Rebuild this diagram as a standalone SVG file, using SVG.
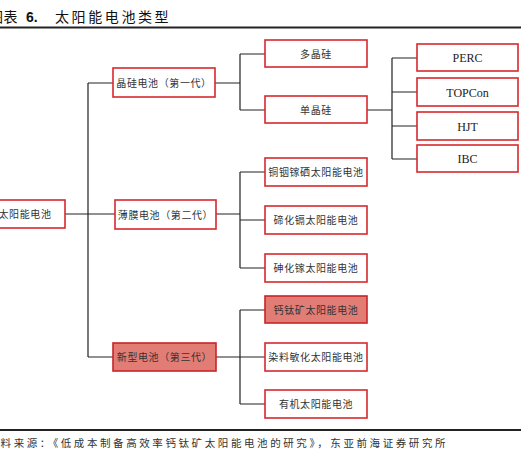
<svg xmlns="http://www.w3.org/2000/svg" width="521" height="455" viewBox="0 0 521 455">
<style>
.box{fill:#fff;stroke:#d7282e;stroke-width:1.6}
.hl{fill:#e27d76;stroke:#c8242a;stroke-width:1.6}
.cn{font-family:"Noto Sans CJK SC","Noto Sans",sans-serif;font-size:10px;fill:#333;text-anchor:middle;letter-spacing:0.6px}
.en{font-family:"Liberation Serif","Times New Roman",serif;font-size:12px;fill:#222;text-anchor:middle}
.ln{fill:none;stroke:#222;stroke-width:1.2}
</style>
<rect width="521" height="455" fill="#fff"/>
<g id="title">
<text x="-11" y="22" font-family="'Noto Sans CJK SC',sans-serif" font-size="14" fill="#111" letter-spacing="0.5">图表</text>
<text x="26" y="22" font-family="'Liberation Sans',Arial,sans-serif" font-size="14" font-weight="bold" fill="#111">6.</text>
<text x="55" y="22" font-family="'Noto Sans CJK SC',sans-serif" font-size="14" fill="#111" letter-spacing="2.6">太阳能电池类型</text>
<line x1="0" y1="27.5" x2="521" y2="27.5" stroke="#222" stroke-width="2"/>
</g>
<g id="connectors">
<path class="ln" d="M65 214H88M88 83V357M88 83H113M88 214H115M88 357H113"/>
<path class="ln" d="M215 83H240M240 54V110M240 54H265M240 110H265"/>
<path class="ln" d="M367 110H392M392 58V159M392 58H417M392 92H417M392 126H417M392 159H417"/>
<path class="ln" d="M215 214H240M240 172V268M240 172H265M240 220H265M240 268H265"/>
<path class="ln" d="M216 357H240M240 310V404M240 310H265M240 357H265M240 404H265"/>
</g>
<g id="root"><rect class="box" x="-15" y="200" width="80" height="28"/><text class="cn" x="25" y="218">太阳能电池</text></g>
<g id="gen1"><rect class="box" x="113" y="68" width="102" height="29"/><text class="cn" x="164" y="86.5" letter-spacing="0.2">晶硅电池（第一代）</text></g>
<g id="gen2"><rect class="box" x="115" y="200" width="101" height="29"/><text class="cn" x="165.5" y="218.5" letter-spacing="0.2">薄膜电池（第二代）</text></g>
<g id="gen3"><rect class="hl" x="113" y="343" width="103" height="28"/><text class="cn" x="164.5" y="361" letter-spacing="0.2">新型电池（第三代）</text></g>
<g id="poly"><rect class="box" x="265" y="40" width="102" height="27"/><text class="cn" x="316" y="57.5" letter-spacing="3">多晶硅</text></g>
<g id="mono"><rect class="box" x="265" y="96" width="102" height="27"/><text class="cn" x="316" y="113.5" letter-spacing="3">单晶硅</text></g>
<g id="perc"><rect class="box" x="417" y="44" width="101" height="27"/><text class="en" x="467.5" y="62">PERC</text></g>
<g id="topcon"><rect class="box" x="417" y="78" width="101" height="28"/><text class="en" x="467.5" y="96.5">TOPCon</text></g>
<g id="hjt"><rect class="box" x="417" y="112" width="101" height="28"/><text class="en" x="467.5" y="130.5">HJT</text></g>
<g id="ibc"><rect class="box" x="417" y="145" width="101" height="27"/><text class="en" x="467.5" y="163">IBC</text></g>
<g id="cigs"><rect class="box" x="265" y="158" width="102" height="28"/><text class="cn" x="316" y="176" letter-spacing="0.4">铜铟镓硒太阳能电池</text></g>
<g id="cdte"><rect class="box" x="265" y="206" width="102" height="28"/><text class="cn" x="316" y="224">碲化镉太阳能电池</text></g>
<g id="gaas"><rect class="box" x="265" y="254" width="102" height="28"/><text class="cn" x="316" y="272">砷化镓太阳能电池</text></g>
<g id="perovskite"><rect class="hl" x="265" y="296" width="102" height="27"/><text class="cn" x="316" y="313.5">钙钛矿太阳能电池</text></g>
<g id="dye"><rect class="box" x="265" y="343" width="102" height="28"/><text class="cn" x="316" y="361" letter-spacing="0.4">染料敏化太阳能电池</text></g>
<g id="organic"><rect class="box" x="265" y="390" width="102" height="28"/><text class="cn" x="316" y="408" letter-spacing="0.8">有机太阳能电池</text></g>
<g id="source">
<line x1="0" y1="430" x2="521" y2="430" stroke="#222" stroke-width="2"/>
<text x="-12.5" y="447" font-family="'Noto Sans CJK SC',sans-serif" font-size="10.5" fill="#333" textLength="458" lengthAdjust="spacing">资料来源：《低成本制备高效率钙钛矿太阳能电池的研究》，东亚前海证券研究所</text>
</g>
</svg>
